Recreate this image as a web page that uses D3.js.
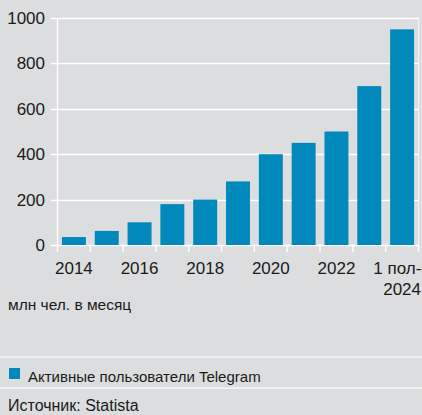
<!DOCTYPE html>
<html>
<head>
<meta charset="utf-8">
<script src="https://cdn.jsdelivr.net/npm/d3@7"></script>
<style>
  html, body { margin: 0; padding: 0; background: #dcdddf; }
  svg { display: block; font-family: "Liberation Sans", Arial, sans-serif; }
</style>
</head>
<body>
<div id="chart"></div>
<script>
const years = ['2014', '2015', '2016', '2017', '2018', '2019', '2020', '2021', '2022', '2023', '2024H1'];
const users = [35, 62, 100, 180, 200, 280, 400, 450, 500, 700, 950];
const tickLabels = {'2014': ['2014'], '2016': ['2016'], '2018': ['2018'], '2020': ['2020'], '2022': ['2022'], '2024H1': ['1 пол-е', '2024']};
const yTicks = [0, 200, 400, 600, 800, 1000];
const unitLabel = 'млн чел. в месяц';
const legendLabel = 'Активные пользователи Telegram';
const sourceLabel = 'Источник: Statista';

const W = 422, H = 415;
const blue = '#0089ba';

const svg = d3.select('#chart')
    .append('svg')
    .attr('width', W)
    .attr('height', H);

svg.append('rect')
    .attr('width', W)
    .attr('height', H)
    .attr('fill', '#dcdddf');

const x = d3.scaleBand()
    .domain(years)
    .range([57.5, 418.5])
    .paddingInner(0.27)
    .paddingOuter(0.135);

const y = d3.scaleLinear()
    .domain([0, 1000])
    .range([245, 18]);

// gridlines
svg.append('g')
    .selectAll('line')
    .data(yTicks)
    .enter()
    .append('line')
    .attr('x1', 51)
    .attr('x2', 418.5)
    .attr('y1', d => Math.round(y(d)) + 0.5)
    .attr('y2', d => Math.round(y(d)) + 0.5)
    .attr('stroke', '#fff')
    .attr('stroke-width', 1.4);

// right frame line
svg.append('line')
    .attr('x1', 418.5).attr('x2', 418.5)
    .attr('y1', y(1000)).attr('y2', y(0))
    .attr('stroke', '#f2f2f3')
    .attr('stroke-width', 1.2);

// y labels
svg.append('g')
    .selectAll('text')
    .data(yTicks)
    .enter()
    .append('text')
    .attr('x', 45)
    .attr('y', d => y(d) + 6)
    .attr('text-anchor', 'end')
    .attr('font-size', 17)
    .attr('fill', '#1a1a1a')
    .text(d => d);

// bars
svg.append('g')
    .selectAll('rect')
    .data(years)
    .enter()
    .append('rect')
    .attr('x', d => x(d))
    .attr('width', x.bandwidth())
    .attr('y', (d, i) => y(users[i]))
    .attr('height', (d, i) => y(0) - y(users[i]))
    .attr('fill', blue);

// y axis line
svg.append('line')
    .attr('x1', 57.5).attr('x2', 57.5)
    .attr('y1', y(1000)).attr('y2', 252)
    .attr('stroke', '#fff')
    .attr('stroke-width', 1.4);

// x ticks at band boundaries
const step = x.step();
const bounds = years.map(d => x(d) - (step - x.bandwidth()) / 2);
svg.append('g')
    .selectAll('line')
    .data(bounds.slice(1).concat([418.5]))
    .enter()
    .append('line')
    .attr('x1', d => d).attr('x2', d => d)
    .attr('y1', y(0)).attr('y2', 252)
    .attr('stroke', '#fff')
    .attr('stroke-width', 1.4);

// x labels (last one runs off the right edge, as in the original)
const xl = svg.append('g')
    .selectAll('text')
    .data(years.filter(d => tickLabels[d]))
    .enter()
    .append('text')
    .attr('x', d => x(d) + x.bandwidth() / 2)
    .attr('y', 274)
    .attr('text-anchor', 'middle')
    .attr('font-size', 17)
    .attr('fill', '#1a1a1a');

xl.selectAll('tspan')
    .data(d => tickLabels[d])
    .enter()
    .append('tspan')
    .attr('x', function() { return d3.select(this.parentNode).attr('x'); })
    .attr('dy', (d, i) => i === 0 ? 0 : 21)
    .text(d => d);

svg.append('text')
    .attr('x', 8)
    .attr('y', 310)
    .attr('font-size', 15.5)
    .attr('fill', '#1a1a1a')
    .text(unitLabel);

// separators
[357, 388].forEach(yy => {
    svg.append('line')
        .attr('x1', 0).attr('x2', W)
        .attr('y1', yy).attr('y2', yy)
        .attr('stroke', '#f4f4f5')
        .attr('stroke-width', 1.5);
});

// legend
svg.append('rect')
    .attr('x', 9).attr('y', 368)
    .attr('width', 11).attr('height', 11)
    .attr('fill', blue);

svg.append('text')
    .attr('x', 28)
    .attr('y', 382)
    .attr('font-size', 15)
    .attr('fill', '#1a1a1a')
    .text(legendLabel);

svg.append('text')
    .attr('x', 8)
    .attr('y', 411)
    .attr('font-size', 16)
    .attr('fill', '#1a1a1a')
    .text(sourceLabel);
</script>
</body>
</html>
